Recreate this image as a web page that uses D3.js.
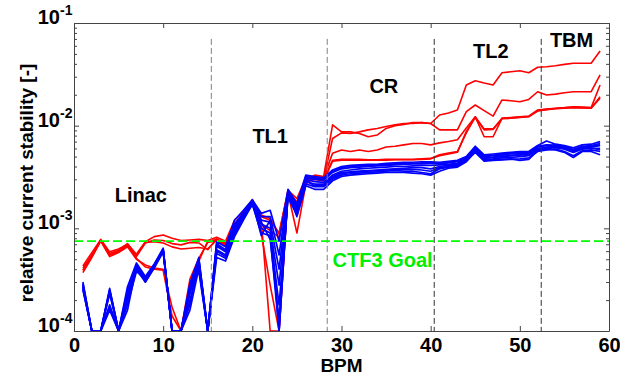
<!DOCTYPE html>
<html>
<head>
<meta charset="utf-8">
<script src="https://cdn.jsdelivr.net/npm/d3@7"></script>
<style>
  body { margin: 0; background: #fff; }
  svg { display: block; font-family: "Liberation Sans", Arial, sans-serif; font-weight: bold; }
</style>
</head>
<body>
<div id="chart"></div>
<script>
// BPM index along the line
const bpm = d3.range(1, 60);

// red: first measurement set
const red1 = [4.3e-4,5.8e-4,7.8e-4,5.9e-4,6.3e-4,7.0e-4,5.6e-4,7.4e-4,8.3e-4,8.6e-4,
  8.0e-4,7.6e-4,7.7e-4,7.8e-4,7.6e-4,8.2e-4,7.5e-4,1.2e-3,1.45e-3,1.9e-3,
  1.3e-3,1.2e-3,9.0e-4,2.3e-3,1.8e-3,3.0e-3,3.3e-3,3.2e-3,1.02e-2,8.7e-3,
  8.7e-3,8.4e-3,7.8e-3,8.1e-3,9.4e-3,1.0e-2,1.03e-2,1.07e-2,1.07e-2,1.05e-2,
  1.27e-2,1.33e-2,1.42e-2,2.49e-2,2.74e-2,2.6e-2,2.49e-2,3.28e-2,3.35e-2,3.43e-2,
  3.28e-2,3.71e-2,3.75e-2,3.84e-2,3.95e-2,4.06e-2,4.06e-2,4.06e-2,5.33e-2];
const red2 = [3.9e-4,5.5e-4,7.6e-4,5.5e-4,5.9e-4,6.8e-4,5.3e-4,7.2e-4,7.7e-4,7.6e-4,
  7.1e-4,6.9e-4,7.3e-4,7.2e-4,6.2e-4,7.9e-4,7.1e-4,1.05e-3,1.35e-3,1.85e-3,
  1.1e-3,9.5e-4,8.2e-4,2.2e-3,9.0e-4,2.7e-3,3.1e-3,3.0e-3,7.5e-3,8.5e-3,
  8.4e-3,8.7e-3,9.1e-3,9.4e-3,9.8e-3,1.02e-2,1.05e-2,1.05e-2,1.07e-2,1.05e-2,
  9.1e-3,9.1e-3,9.1e-3,1.37e-2,1.59e-2,1.4e-2,1.24e-2,1.78e-2,1.75e-2,1.71e-2,
  1.8e-2,2.14e-2,1.99e-2,2.03e-2,2.09e-2,2.14e-2,2.14e-2,2.14e-2,3.12e-2];
const red3 = [4.1e-4,5.4e-4,7.7e-4,5.7e-4,6.1e-4,7.1e-4,5.5e-4,7.3e-4,7.4e-4,7.2e-4,
  6.6e-4,6.3e-4,6.4e-4,6.5e-4,6.3e-4,7.7e-4,7.2e-4,1.1e-3,1.4e-3,1.88e-3,
  1.35e-3,1.25e-3,8.8e-4,2.35e-3,1.95e-3,3.1e-3,3.2e-3,3.1e-3,5.4e-3,5.8e-3,
  5.6e-3,5.8e-3,5.6e-3,5.8e-3,6.2e-3,6.3e-3,6.5e-3,6.7e-3,6.7e-3,6.5e-3,
  6.8e-3,7.0e-3,7.3e-3,9.5e-3,1.22e-2,7.8e-3,7.8e-3,1.18e-2,1.2e-2,1.22e-2,
  1.24e-2,1.42e-2,1.45e-2,1.48e-2,1.5e-2,1.53e-2,1.52e-2,1.5e-2,2.49e-2];
const red4 = [3.7e-4,5.2e-4,7.5e-4,5.3e-4,5.8e-4,6.6e-4,5.0e-4,4.4e-4,4.1e-4,4.0e-4,
  1.7e-4,1e-4,3.2e-4,5.1e-4,7.3e-4,7.6e-4,6.8e-4,9.6e-4,1.3e-3,1.8e-3,
  1.2e-3,1e-4,1e-4,2.3e-3,1.7e-3,3.0e-3,3.1e-3,3.0e-3,4.6e-3,4.7e-3,
  4.7e-3,4.7e-3,4.65e-3,4.65e-3,4.7e-3,4.7e-3,4.7e-3,4.7e-3,4.75e-3,4.8e-3,
  5.2e-3,5.4e-3,5.6e-3,8.5e-3,1.22e-2,9.3e-3,9.3e-3,1.18e-2,1.19e-2,1.21e-2,
  1.23e-2,1.4e-2,1.44e-2,1.47e-2,1.49e-2,1.51e-2,1.5e-2,1.49e-2,1.91e-2];
const red5 = [3.9e-4,5.3e-4,7.6e-4,5.5e-4,5.9e-4,6.9e-4,5.1e-4,4.2e-4,4.0e-4,3.9e-4,
  1.4e-4,1e-4,2.9e-4,4.8e-4,7.5e-4,7.8e-4,7.0e-4,1.0e-3,1.32e-3,1.84e-3,
  9.0e-4,2.8e-4,1e-4,2.25e-3,1.75e-3,2.9e-3,3.0e-3,2.9e-3,4.5e-3,4.6e-3,
  4.6e-3,4.6e-3,4.6e-3,4.6e-3,4.6e-3,4.65e-3,4.65e-3,4.65e-3,4.7e-3,4.75e-3,
  5.1e-3,5.3e-3,5.5e-3,8.8e-3,1.2e-2,9.1e-3,9.2e-3,1.17e-2,1.18e-2,1.2e-2,
  1.22e-2,1.39e-2,1.43e-2,1.46e-2,1.48e-2,1.5e-2,1.49e-2,1.48e-2,1.85e-2];

// blue: second measurement set
const blue1 = [3.0e-4,1e-4,1e-4,2.6e-4,1e-4,2.7e-4,4.6e-4,3.4e-4,4.5e-4,6.4e-4,
  1e-4,1e-4,2.9e-4,5.2e-4,1e-4,7.4e-4,6.6e-4,1.2e-3,1.5e-3,1.9e-3,
  1.4e-3,1.5e-3,7.5e-4,2.4e-3,1.75e-3,3.3e-3,3.2e-3,3.1e-3,3.7e-3,4.0e-3,
  4.1e-3,4.15e-3,4.2e-3,4.2e-3,4.3e-3,4.35e-3,4.4e-3,4.4e-3,4.45e-3,4.45e-3,
  4.4e-3,4.5e-3,4.6e-3,5.0e-3,6.3e-3,5.2e-3,5.3e-3,5.4e-3,5.5e-3,5.6e-3,
  5.6e-3,6.4e-3,7.1e-3,6.6e-3,6.4e-3,6.1e-3,6.5e-3,6.6e-3,7.0e-3];
const blue2 = [2.9e-4,1e-4,1e-4,2.5e-4,1e-4,2.4e-4,4.4e-4,3.3e-4,4.4e-4,6.2e-4,
  1e-4,1e-4,2.6e-4,5.0e-4,1e-4,7.1e-4,6.2e-4,1.1e-3,1.42e-3,1.85e-3,
  1.3e-3,1.3e-3,5.5e-4,2.3e-3,1.65e-3,3.1e-3,3.0e-3,2.95e-3,3.5e-3,3.8e-3,
  3.9e-3,3.95e-3,4.0e-3,4.05e-3,4.1e-3,4.15e-3,4.2e-3,4.25e-3,4.25e-3,4.3e-3,
  4.3e-3,4.35e-3,4.45e-3,4.9e-3,6.1e-3,5.0e-3,5.1e-3,5.2e-3,5.3e-3,5.4e-3,
  5.3e-3,6.2e-3,6.4e-3,6.5e-3,6.3e-3,5.9e-3,6.3e-3,6.4e-3,6.7e-3];
const blue3 = [2.8e-4,1e-4,1e-4,2.4e-4,1e-4,2.2e-4,4.2e-4,3.1e-4,4.3e-4,6.0e-4,
  1e-4,1e-4,2.3e-4,4.7e-4,1e-4,6.7e-4,5.9e-4,1.0e-3,1.35e-3,1.8e-3,
  1.2e-3,1.15e-3,4.0e-4,2.2e-3,1.55e-3,3.0e-3,2.85e-3,2.8e-3,3.3e-3,3.6e-3,
  3.7e-3,3.8e-3,3.85e-3,3.9e-3,3.95e-3,4.0e-3,4.0e-3,4.05e-3,4.1e-3,4.1e-3,
  4.15e-3,4.2e-3,4.3e-3,4.8e-3,5.9e-3,4.8e-3,4.9e-3,5.0e-3,5.1e-3,5.2e-3,
  5.4e-3,6.0e-3,6.2e-3,6.3e-3,6.1e-3,5.7e-3,6.1e-3,6.2e-3,6.4e-3];
const blue4 = [2.7e-4,1e-4,1e-4,1.7e-4,1e-4,2.0e-4,4.0e-4,3.0e-4,4.2e-4,6.3e-4,
  1e-4,1e-4,2.0e-4,4.4e-4,1e-4,6.2e-4,5.5e-4,9.5e-4,1.3e-3,1.75e-3,
  1.1e-3,1.0e-3,2.8e-4,2.1e-3,1.45e-3,2.85e-3,2.7e-3,2.7e-3,3.2e-3,3.5e-3,
  3.55e-3,3.6e-3,3.65e-3,3.7e-3,3.75e-3,3.8e-3,3.85e-3,3.9e-3,3.9e-3,3.8e-3,
  4.0e-3,4.1e-3,4.2e-3,4.7e-3,5.7e-3,4.7e-3,4.75e-3,4.85e-3,4.9e-3,5.0e-3,
  5.1e-3,5.8e-3,6.0e-3,6.1e-3,5.9e-3,5.5e-3,5.9e-3,6.0e-3,6.0e-3];
const blue5 = [2.6e-4,1e-4,1e-4,1.6e-4,1e-4,1.8e-4,3.8e-4,3.2e-4,4.4e-4,6.1e-4,
  1e-4,1e-4,1.6e-4,4.1e-4,1e-4,5.7e-4,5.1e-4,8.8e-4,1.25e-3,1.7e-3,
  1.0e-3,9.0e-4,1.8e-4,2.0e-3,1.35e-3,2.7e-3,2.55e-3,2.55e-3,3.0e-3,3.3e-3,
  3.4e-3,3.45e-3,3.5e-3,3.55e-3,3.6e-3,3.65e-3,3.6e-3,3.6e-3,3.5e-3,3.4e-3,
  3.8e-3,3.95e-3,4.05e-3,4.55e-3,5.5e-3,4.5e-3,4.6e-3,4.65e-3,4.7e-3,4.75e-3,
  4.85e-3,5.6e-3,5.8e-3,5.9e-3,5.6e-3,5.1e-3,5.7e-3,5.8e-3,5.6e-3];
const blue6 = [2.5e-4,1e-4,1e-4,2.3e-4,1e-4,1.6e-4,4.3e-4,3.0e-4,4.1e-4,5.9e-4,
  1e-4,1e-4,2.7e-4,3.8e-4,1e-4,5.2e-4,4.8e-4,8.3e-4,1.2e-3,1.72e-3,
  9.0e-4,8.5e-4,1e-4,2.25e-3,1.3e-3,2.6e-3,2.4e-3,2.4e-3,2.9e-3,3.2e-3,
  3.3e-3,3.35e-3,3.4e-3,3.45e-3,3.5e-3,3.5e-3,3.5e-3,3.45e-3,3.4e-3,3.3e-3,
  3.6e-3,3.85e-3,3.95e-3,4.45e-3,5.6e-3,4.6e-3,4.65e-3,4.7e-3,4.75e-3,4.6e-3,
  4.7e-3,5.7e-3,5.9e-3,5.8e-3,5.5e-3,4.9e-3,5.6e-3,5.6e-3,5.2e-3];
const blue7 = [2.8e-4,1e-4,1e-4,2.5e-4,1e-4,2.5e-4,4.1e-4,3.3e-4,4.3e-4,6.2e-4,
  1e-4,1e-4,1.8e-4,4.9e-4,1e-4,6.9e-4,6.0e-4,1.05e-3,1.38e-3,1.82e-3,
  8.5e-4,1.2e-3,1e-4,2.15e-3,1.6e-3,3.2e-3,3.1e-3,3.0e-3,3.6e-3,3.9e-3,
  4.0e-3,4.05e-3,4.1e-3,4.15e-3,4.2e-3,4.25e-3,4.3e-3,4.3e-3,4.35e-3,4.4e-3,
  4.25e-3,4.4e-3,4.5e-3,4.95e-3,6.0e-3,5.1e-3,5.15e-3,5.3e-3,5.4e-3,5.5e-3,
  5.5e-3,6.3e-3,6.5e-3,6.4e-3,6.2e-3,5.8e-3,6.2e-3,6.3e-3,6.5e-3];
const blue8 = [2.6e-4,1e-4,1e-4,1.8e-4,1e-4,2.1e-4,3.9e-4,3.1e-4,4.2e-4,6.0e-4,
  1e-4,1e-4,2.4e-4,4.5e-4,1e-4,6.0e-4,5.3e-4,9.0e-4,1.28e-3,1.78e-3,
  1.15e-3,7.8e-4,1.3e-4,2.05e-3,1.5e-3,2.9e-3,2.6e-3,2.6e-3,3.1e-3,3.4e-3,
  3.5e-3,3.55e-3,3.6e-3,3.65e-3,3.7e-3,3.75e-3,3.8e-3,3.75e-3,3.7e-3,3.6e-3,
  3.9e-3,4.0e-3,4.1e-3,4.6e-3,5.8e-3,4.9e-3,4.95e-3,5.05e-3,5.1e-3,5.2e-3,
  5.2e-3,5.9e-3,6.1e-3,6.2e-3,6.0e-3,5.6e-3,6.0e-3,6.1e-3,5.8e-3];

const redSeries = [red1, red2, red3, red4, red5];
const blueSeries = [blue1, blue2, blue3, blue4, blue5, blue6, blue7, blue8];

// section boundaries (BPM) and names
const sectionEdges = [15.4, 28.4, 40.4, 52.4];
const sectionNames = ["Linac", "TL1", "CR", "TL2", "TBM"];
const sectionLabelAt = [[7.5, 1.8e-3], [22, 6.8e-3], [34.75, 2.08e-2], [46.75, 4.56e-2], [55.8, 5.83e-2]];

const goal = 7.5e-4;
const goalLabel = "CTF3 Goal";

const xTicks = [0, 10, 20, 30, 40, 50, 60];
const yDecades = [-4, -3, -2, -1];

const width = 620, height = 375;
const plotL = 74, plotR = 609, plotT = 23, plotB = 331;

const svg = d3.select("#chart").append("svg")
  .attr("width", width)
  .attr("height", height);

const x = d3.scaleLinear().domain([0, 60]).range([plotL, plotR]);
const y = d3.scaleLog().domain([1e-4, 1e-1]).range([plotB, plotT]);

svg.append("clipPath").attr("id", "plot")
  .append("rect")
  .attr("x", plotL).attr("y", plotT)
  .attr("width", plotR - plotL).attr("height", plotB - plotT);

const line = d3.line()
  .x((d, i) => x(bpm[i]))
  .y(d => y(d));

const plot = svg.append("g").attr("clip-path", "url(#plot)");

// red first, blue on top
plot.selectAll(".red")
  .data(redSeries)
  .enter()
  .append("path")
  .attr("d", line)
  .attr("fill", "none")
  .attr("stroke", "#ff0000")
  .attr("stroke-width", 1.6)
  .attr("stroke-linejoin", "round");

plot.selectAll(".blue")
  .data(blueSeries)
  .enter()
  .append("path")
  .attr("d", line)
  .attr("fill", "none")
  .attr("stroke", "#0000ff")
  .attr("stroke-width", 1.7)
  .attr("stroke-linejoin", "round");

// section boundaries
plot.selectAll(".edge")
  .data(sectionEdges)
  .enter()
  .append("line")
  .attr("x1", d => x(d)).attr("x2", d => x(d))
  .attr("y1", y(7e-2)).attr("y2", plotB)
  .attr("stroke", (d, i) => i < 2 ? "#808080" : "#333")
  .attr("stroke-width", 1)
  .attr("stroke-dasharray", "6,3");

// goal line
plot.append("line")
  .attr("x1", plotL).attr("x2", plotR)
  .attr("y1", y(goal)).attr("y2", y(goal))
  .attr("stroke", "#00ff00")
  .attr("stroke-width", 1.6)
  .attr("stroke-dasharray", "9,4");

// axes
const axisColor = "#444";
function styleAxis(g) {
  g.selectAll("path, line").attr("stroke", axisColor);
  g.selectAll("text").attr("fill", "#000").attr("font-size", 20).attr("font-weight", "bold")
    .attr("font-family", '"Liberation Sans", Arial, sans-serif');
}

svg.append("g")
  .attr("transform", "translate(0," + plotB + ")")
  .call(d3.axisBottom(x).tickValues(xTicks).tickSizeInner(-5).tickSizeOuter(0).tickPadding(7).tickFormat(d3.format("d")))
  .call(styleAxis);

svg.append("g")
  .attr("transform", "translate(0," + plotT + ")")
  .call(d3.axisTop(x).tickValues(xTicks).tickSizeInner(-5).tickSizeOuter(0).tickFormat(""))
  .call(styleAxis);

const majors = yDecades.map(e => Math.pow(10, e));
const minors = y.ticks().filter(v => !majors.some(m => Math.abs(v - m) < m * 1e-6));

[[d3.axisLeft, plotL], [d3.axisRight, plotR]].forEach(([ax, pos]) => {
  svg.append("g")
    .attr("transform", "translate(" + pos + ",0)")
    .call(ax(y).tickValues(majors).tickSizeInner(-5).tickSizeOuter(0).tickFormat(""))
    .call(styleAxis);
  svg.append("g")
    .attr("transform", "translate(" + pos + ",0)")
    .call(ax(y).tickValues(minors).tickSizeInner(-3).tickSizeOuter(0).tickFormat(""))
    .call(g => g.select(".domain").remove())
    .call(styleAxis);
});

// y tick labels 10^n
const yLab = svg.append("g");
yLab.selectAll(".base")
  .data(yDecades)
  .enter()
  .append("text")
  .attr("x", 60)
  .attr("y", d => y(Math.pow(10, d)) + 1)
  .attr("text-anchor", "end")
  .attr("font-size", 20)
  .text("10");
yLab.selectAll(".exp")
  .data(yDecades)
  .enter()
  .append("text")
  .attr("x", 60)
  .attr("y", d => y(Math.pow(10, d)) - 8)
  .attr("font-size", 14)
  .text(d => String(d));

// axis titles
svg.append("text")
  .attr("x", (plotL + plotR) / 2)
  .attr("y", 372)
  .attr("text-anchor", "middle")
  .attr("font-size", 19)
  .text("BPM");

svg.append("text")
  .attr("transform", "translate(33," + ((plotT + plotB) / 2 + 6) + ") rotate(-90)")
  .attr("text-anchor", "middle")
  .attr("font-size", 19)
  .text("relative current stability [-]");

// section names
svg.selectAll(".sec")
  .data(sectionNames)
  .enter()
  .append("text")
  .attr("x", (d, i) => x(sectionLabelAt[i][0]))
  .attr("y", (d, i) => y(sectionLabelAt[i][1]))
  .attr("text-anchor", "middle")
  .attr("font-size", 20)
  .text(d => d);

svg.append("text")
  .attr("x", x(29))
  .attr("y", y(4.2e-4))
  .attr("font-size", 20)
  .attr("fill", "#00ee00")
  .text(goalLabel);
</script>
</body>
</html>
